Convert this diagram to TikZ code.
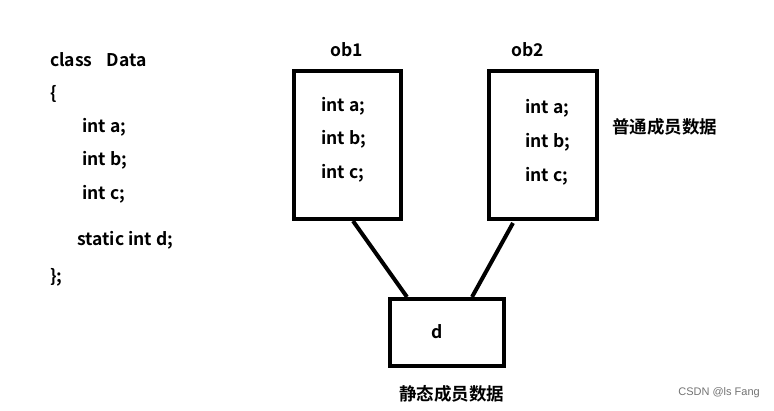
\documentclass[tikz,border=0pt]{standalone}
\usepackage{fontspec}
\setmainfont{Noto Sans CJK SC}[BoldFont={* Bold}]
\newfontfamily\wmfont{Liberation Sans}
\begin{document}
\begin{tikzpicture}[x=1pt,y=-1pt,
  txt/.style={font=\bfseries\fontsize{17.5}{19}\selectfont, inner sep=0pt, anchor=west, yshift=-2pt},
  cnt/.style={font=\bfseries\fontsize{17.5}{19}\selectfont, inner sep=0pt, yshift=-2pt},
  obj/.style={draw=black, line width=4pt, fill=white},
  link/.style={line width=4pt}]
\useasboundingbox (0,0) rectangle (774,411);
% code
\node[txt] (cls) at (50,58) {class\hspace{0.8em}Data};
\node[txt] (lb) at (50,92) {\{};
\node[txt] (ca) at (82,125) {int a;};
\node[txt] (cb) at (82,158) {int b;};
\node[txt] (cc) at (82,192) {int c;};
\node[txt] (cd) at (77,238) {static int d;};
\node[txt] (rb) at (50,275) {\};};
% boxes
\draw[obj] (294,71) rectangle (401,219);
\draw[obj] (489,71) rectangle (597,219);
\draw[obj] (390,299) rectangle (504,366);
\coordinate (o1b) at (353,221);
\coordinate (o2b) at (513,223);
\coordinate (dl) at (407,297);
\coordinate (dr) at (472,297);
\draw[link] (o1b) -- (dl);
\draw[link] (o2b) -- (dr);
% labels
\node[cnt] (ob1) at (347,48) {ob1};
\node[cnt] (ob2) at (528,48) {ob2};
\node[txt] (a1) at (321,104) {int a;};
\node[txt] (b1) at (321,137) {int b;};
\node[txt] (c1) at (321,171) {int c;};
\node[txt] (a2) at (525,106) {int a;};
\node[txt] (b2) at (525,140) {int b;};
\node[txt] (c2) at (525,174) {int c;};
\node[txt] (pt) at (612,125) {普通成员数据};
\node[cnt] (d) at (437,330) {d};
\node[txt] (jt) at (399,392) {静态成员数据};
\node[font=\wmfont\fontsize{11}{13}\selectfont, text=black!55, inner sep=0pt, anchor=east] (wm) at (760,393) {CSDN @ls Fang};
\end{tikzpicture}
\end{document}
